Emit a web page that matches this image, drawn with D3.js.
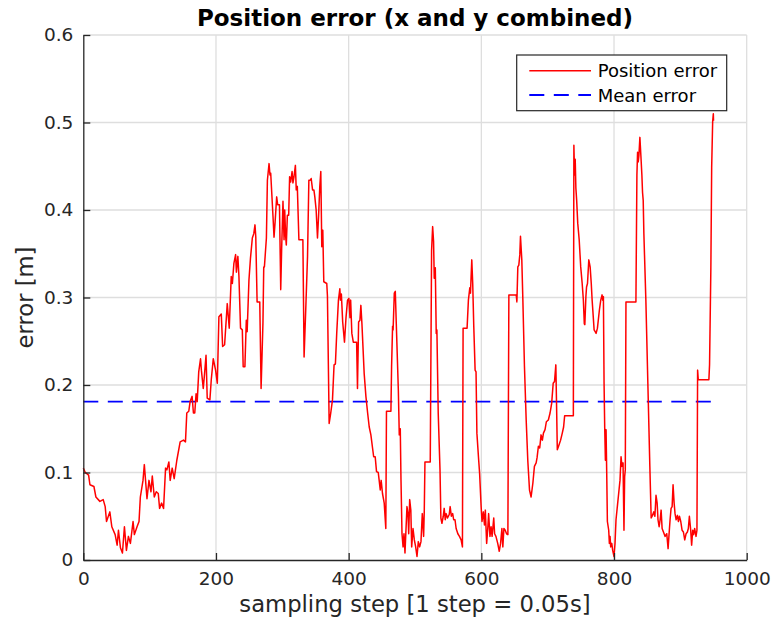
<!DOCTYPE html>
<html>
<head>
<meta charset="utf-8">
<script src="https://cdn.jsdelivr.net/npm/d3@7"></script>
<style>
  html, body { margin: 0; padding: 0; background: #fff; }
  svg { display: block; font-family: "DejaVu Sans", sans-serif; }
</style>
</head>
<body>
<svg id="chart" width="774" height="628"></svg>
<script>
// Sampling step (x) of each vertex of the position-error trace
const sampleStep = [
  0,3,8,10,16,19,25,30,33,35,40,43,48,51,53,56,59,62,65,68,71,75,77,81,84,86,90,92,96,99,
  102,104,107,110,113,115,118,121,124,126,129,131,134,137,141,146,151,154,156,159,161,164,166,168,170,
  171.7,174,176.7,178,180.8,182.8,185,186.8,190.8,192.9,195.9,199.4,202,204.4,208,210,213,217,220,223,
  224.7,227,229.6,230.8,233,234.6,237,239.7,241,243.6,245.7,247,249.7,252,254.8,257,258.8,260,262,266,
  268,270.8,272,273,276,277.5,280,281.4,282.5,286,287.5,289,291.5,293,295.7,297.6,299,301,302.6,303.6,
  305,306,307.6,309.6,311,312.6,314.7,316,317.6,319.7,321,322.6,325,331,332.8,335.3,338,340,342,343.5,
  345.6,347.6,349,351,353,354.6,356.5,358,359.5,361,362.5,367,368,370.6,373,375.6,378,380,382,384.6,
  386.7,387.6,389,391,393.7,396,398.3,400.3,402,403,404.8,407,412,413.3,415,417,418.4,420,423.4,426,
  428.6,431,433.5,436,437.7,440,442,444.6,446,447.6,449,451,453.6,456,457,463.7,464.7,466.2,467,468.8,
  470.3,471.8,474.9,476.3,477.8,478.9,480.4,482,483.4,484.9,487.9,489.4,490.5,492,493.7,495,497,499,501,503,
  505,507,509,511,513,514,515,523,525,526.6,528,529,530.6,532,533,535,537.7,539,540.6,542.6,544,545.6,
  547,549,551.6,553,554.8,556.8,558.3,560.3,562,564.6,567,569.5,571.5,572.5,578.5,580.5,582.6,583.6,585.6,587,
  588.6,590.6,592,593.3,596,597.4,599.7,601,603,604.7,606,608,609.7,611,613,614.7,616.2,618.7,620,622,
  624.7,627,629,631,632.4,634,636,638,640,641.5,652.6,653.6,655,656.5,658,659,661,662.6,665,667.6,
  670,672.6,675,677.7,680,682.6,684,686,688,690,692,693.6,696,698,701,703.6,706,708.3,710.3,712.3,
  713.3,714.5,716.4,719.5,722,724,725.6,738.7,739.5,740.5,741.5,742.5,743.7,745.3,747.5,749.8,752,753.8,
  755.2,756,757.6,758.6,760,762,764,765.7,767,768,770,771.6,773,775,778,780,782,783,784,785,
  786,787,788,789,790,792,793,794,795,796.6,798,800,801.5,803,805,807,809,810.6,812,813.6,
  815,816,817,818,833,834.5,835.5,836.5,837.5,839,840.5,842,843,844,845,848,851,854,856,858,
  860,861.6,863.3,865,866.3,868,869.5,871,872.5,874.5,877,879.5,881.5,883,884.5,886,887.6,889,890.6,892,
  893.6,895.6,897,898.6,900.6,902.6,904.6,906.6,908.6,910.6,912,913.6,915.6,917,918.6,920,921.6,923.6,925,926,
  927,943,944,946,947.2,948.7,949.7,950
];

// Combined x/y position error [m] at each vertex
const positionError = [
  0.105,0.100,0.097,0.086,0.084,0.072,0.067,0.069,0.061,0.044,0.055,0.038,0.029,0.017,0.034,0.014,0.008,0.038,0.011,0.027,0.019,0.044,0.029,0.038,0.044,0.072,0.091,0.109,0.070,0.091,
  0.078,0.096,0.072,0.078,0.076,0.059,0.065,0.059,0.105,0.103,0.112,0.091,0.105,0.093,0.114,0.135,0.137,0.135,0.168,0.170,0.181,0.187,0.168,0.168,0.190,
  0.181,0.215,0.230,0.217,0.196,0.213,0.234,0.185,0.183,0.206,0.230,0.217,0.202,0.278,0.281,0.244,0.246,0.293,0.265,0.324,
  0.316,0.339,0.349,0.329,0.347,0.324,0.265,0.263,0.221,0.221,0.274,0.261,0.320,0.345,0.368,0.373,0.383,0.369,0.295,0.295,
  0.196,0.271,0.335,0.335,0.368,0.434,0.453,0.440,0.442,0.392,0.369,0.385,0.415,0.406,0.406,0.309,0.356,0.410,0.366,0.400,
  0.370,0.360,0.394,0.394,0.438,0.432,0.444,0.431,0.438,0.451,0.423,0.427,0.366,0.366,0.232,0.286,0.347,0.434,0.434,0.436,
  0.423,0.423,0.415,0.400,0.368,0.392,0.427,0.444,0.358,0.377,0.318,0.316,0.302,0.156,0.168,0.183,0.223,0.224,0.259,0.297,
  0.310,0.297,0.304,0.272,0.249,0.277,0.297,0.299,0.277,0.297,0.259,0.249,0.249,0.196,0.272,0.274,0.291,0.270,0.213,0.187,
  0.168,0.152,0.143,0.128,0.118,0.118,0.101,0.100,0.091,0.080,0.091,0.076,0.065,0.036,0.170,0.170,0.221,0.267,0.263,0.305,
  0.307,0.270,0.194,0.143,0.150,0.091,0.030,0.015,0.030,0.008,0.061,0.053,0.030,0.069,0.057,0.015,0.036,0.023,0.015,0.004,
  0.021,0.015,0.021,0.053,0.027,0.057,0.112,0.112,0.354,0.381,0.364,0.322,0.334,0.259,0.263,0.168,0.103,0.048,0.042,0.050,0.059,0.046,
  0.053,0.048,0.052,0.061,0.050,0.053,0.046,0.046,0.036,0.030,0.027,0.023,0.015,0.265,0.265,0.297,0.311,0.305,0.343,0.316,
  0.267,0.217,0.215,0.145,0.114,0.099,0.061,0.044,0.055,0.040,0.057,0.019,0.036,0.053,0.027,0.038,0.027,0.048,0.030,0.027,
  0.019,0.010,0.019,0.036,0.015,0.036,0.034,0.030,0.029,0.303,0.303,0.295,0.335,0.337,0.349,0.370,0.343,0.297,0.221,0.160,
  0.114,0.080,0.072,0.088,0.107,0.111,0.117,0.130,0.128,0.143,0.137,0.145,0.149,0.158,0.160,0.168,0.179,0.202,0.204,0.223,
  0.181,0.126,0.130,0.137,0.145,0.152,0.165,0.165,0.474,0.440,0.458,0.425,0.411,0.385,0.366,0.335,0.316,0.297,
  0.270,0.269,0.301,0.312,0.316,0.343,0.335,0.316,0.297,0.286,0.263,0.261,0.259,0.265,0.286,0.297,0.303,0.297,0.301,0.202,
  0.150,0.114,0.149,0.099,0.044,0.034,0.019,0.027,0.015,0.019,0.011,0.004,0.019,0.046,0.061,0.076,0.091,0.118,0.107,0.111,
  0.034,0.095,0.103,0.295,0.295,0.440,0.466,0.455,0.462,0.483,0.462,0.440,0.420,0.411,0.373,0.297,0.202,0.107,0.048,0.051,
  0.055,0.050,0.074,0.065,0.046,0.038,0.046,0.057,0.036,0.032,0.027,0.030,0.013,0.030,0.046,0.059,0.061,0.086,0.065,0.053,
  0.046,0.051,0.044,0.050,0.044,0.034,0.032,0.023,0.030,0.032,0.036,0.050,0.034,0.017,0.034,0.029,0.036,0.027,0.034,0.217,
  0.206,0.206,0.223,0.335,0.449,0.501,0.510,0.502
];

// Mean of the position error, drawn over the recorded span
const meanError = 0.181;
const meanSpan = [0, 950];

const xTickValues = [0, 200, 400, 600, 800, 1000];
const yTickValues = [0, 0.1, 0.2, 0.3, 0.4, 0.5, 0.6];
const yTickLabels = ["0", "0.1", "0.2", "0.3", "0.4", "0.5", "0.6"];

const titleText = "Position error (x and y combined)";
const xLabelText = "sampling step [1 step = 0.05s]";
const yLabelText = "error [m]";
const legendLabels = ["Position error", "Mean error"];

const svg = d3.select("#chart");
const plot = { left: 83.3, right: 746.7, top: 35, bottom: 560 };

const x = d3.scaleLinear().domain([0, 1000]).range([plot.left, plot.right]);
const y = d3.scaleLinear().domain([0, 0.6]).range([plot.bottom, plot.top]);

const axisColor = "#262626";
const gridColor = "#dedede";

// Grid lines
const grid = svg.append("g");
grid.selectAll("line.vx").data(xTickValues.filter(d => d > 0)).join("line")
  .attr("x1", d => x(d)).attr("x2", d => x(d))
  .attr("y1", plot.top).attr("y2", plot.bottom)
  .attr("stroke", gridColor).attr("stroke-width", 1.3);
grid.selectAll("line.hy").data(yTickValues.filter(d => d > 0)).join("line")
  .attr("x1", plot.left).attr("x2", plot.right)
  .attr("y1", d => y(d)).attr("y2", d => y(d))
  .attr("stroke", gridColor).attr("stroke-width", 1.3);

// Mean error (dashed)
svg.append("line")
  .attr("x1", x(meanSpan[0])).attr("x2", x(meanSpan[1]))
  .attr("y1", y(meanError)).attr("y2", y(meanError))
  .attr("stroke", "#0000ff").attr("stroke-width", 1.8)
  .attr("stroke-dasharray", "15,9.5");

// Position error trace
const series = sampleStep.map((s, i) => [s, positionError[i]]);
svg.append("path")
  .datum(series)
  .attr("fill", "none")
  .attr("stroke", "#ff0000")
  .attr("stroke-width", 1.5)
  .attr("stroke-linejoin", "round")
  .attr("d", d3.line().x(d => x(d[0])).y(d => y(d[1])));

// Axes with inward ticks
const xAxis = svg.append("g")
  .attr("transform", `translate(0,${plot.bottom})`)
  .call(d3.axisBottom(x).tickValues(xTickValues).tickFormat(d3.format("d"))
    .tickSize(-7).tickSizeOuter(0).tickPadding(11.5));
const yAxis = svg.append("g")
  .attr("transform", `translate(${plot.left},0)`)
  .call(d3.axisLeft(y).tickValues(yTickValues).tickFormat((d, i) => yTickLabels[i])
    .tickSize(-7).tickSizeOuter(0).tickPadding(10));

[xAxis, yAxis].forEach(g => {
  g.select(".domain").attr("stroke", axisColor).attr("stroke-width", 1.3);
  g.selectAll(".tick line").attr("stroke", axisColor).attr("stroke-width", 1.3);
  g.selectAll(".tick text")
    .attr("fill", axisColor)
    .style("font-family", "'DejaVu Sans', sans-serif")
    .style("font-size", "18.5px");
});

// Title and axis labels
svg.append("text")
  .attr("x", (plot.left + plot.right) / 2).attr("y", 26)
  .attr("text-anchor", "middle")
  .style("font-size", "23px").style("font-weight", "bold")
  .attr("fill", "#000")
  .text(titleText);

svg.append("text")
  .attr("x", (plot.left + plot.right) / 2).attr("y", 611.5)
  .attr("text-anchor", "middle")
  .style("font-size", "22.7px")
  .attr("fill", axisColor)
  .text(xLabelText);

svg.append("text")
  .attr("transform", `translate(33,${(plot.top + plot.bottom) / 2}) rotate(-90)`)
  .attr("text-anchor", "middle")
  .style("font-size", "22.7px")
  .attr("fill", axisColor)
  .text(yLabelText);

// Legend
const legend = svg.append("g");
legend.append("rect")
  .attr("x", 516.7).attr("y", 55).attr("width", 210).attr("height", 55.7)
  .attr("fill", "#fff").attr("stroke", axisColor).attr("stroke-width", 1.2);
const legendRows = [
  { label: legendLabels[0], color: "#ff0000", dash: null, cy: 70.7 },
  { label: legendLabels[1], color: "#0000ff", dash: "15,9.5", cy: 95 }
];
legendRows.forEach(r => {
  legend.append("line")
    .attr("x1", 529.3).attr("x2", 591)
    .attr("y1", r.cy).attr("y2", r.cy)
    .attr("stroke", r.color).attr("stroke-width", r.dash ? 1.8 : 1.5)
    .attr("stroke-dasharray", r.dash);
  legend.append("text")
    .attr("x", 597.7).attr("y", r.cy + 6.6)
    .style("font-size", "18px")
    .attr("fill", "#000")
    .text(r.label);
});
</script>
</body>
</html>
